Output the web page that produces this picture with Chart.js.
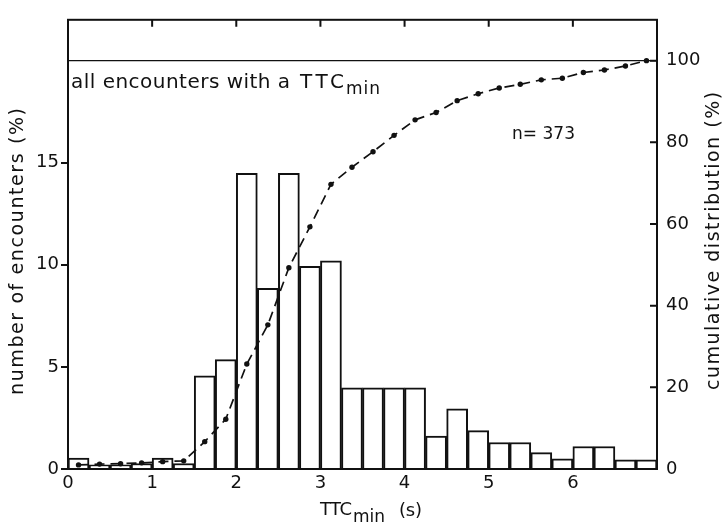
<!DOCTYPE html>
<html><head><meta charset="utf-8">
<script src="https://cdn.jsdelivr.net/npm/chart.js@4.4.0/dist/chart.umd.min.js"></script>
<style>html,body{margin:0;padding:0;background:#fff}canvas{display:block}</style>
</head><body>
<canvas id="c" width="724" height="526"></canvas>
<script>
// ---- data ----
const binCenters = [0.125,0.375,0.625,0.875,1.125,1.375,1.625,1.875,2.125,2.375,2.625,2.875,3.125,3.375,3.625,3.875,4.125,4.375,4.625,4.875,5.125,5.375,5.625,5.875,6.125,6.375,6.625,6.875];
const barValues  = [0.54,0.2,0.2,0.27,0.54,0.27,4.56,5.36,14.48,8.85,14.48,9.92,10.19,3.97,3.97,3.97,3.97,1.61,2.95,1.88,1.3,1.3,0.8,0.5,1.1,1.1,0.45,0.45];
const cumX       = [0.125,0.375,0.625,0.875,1.125,1.375,1.625,1.875,2.125,2.375,2.625,2.875,3.125,3.375,3.625,3.875,4.125,4.375,4.625,4.875,5.125,5.375,5.625,5.875,6.125,6.375,6.625,6.875];
const cumValues  = [1.0,1.2,1.3,1.5,1.8,2.0,6.7,12.2,25.7,35.3,49.3,59.3,69.7,73.9,77.7,81.7,85.5,87.3,90.2,91.9,93.3,94.2,95.3,95.7,97.1,97.7,98.7,100];
const xTickLabels = ['0','1','2','3','4','5','6'];
const leftTicks  = [0,5,10,15];
const rightTicks = [0,20,40,60,80,100];
const topTicks   = [1,2,3,4,5,6];
const leftTitle  = 'number of encounters (%)';
const rightTitle = 'cumulative distribution (%)';
const noteText   = 'all encounters with a ';
const nText      = 'n= 373';

const FONT = '"DejaVu Sans", sans-serif';
const INK = '#111';

function fitText(ctx, text, x, y, w, size) {
  ctx.font = size + 'px ' + FONT;
  ctx.letterSpacing = '0px';
  const m = ctx.measureText(text).width;
  const ls = (w - m) / Math.max(1, text.length - 1);
  ctx.letterSpacing = ls.toFixed(2) + 'px';
  ctx.fillText(text, x, y);
  ctx.letterSpacing = '0px';
}

const overlay = {
  id: 'overlay',
  beforeDatasetsDraw(chart) {
    const {ctx, chartArea: a, scales} = chart;
    ctx.save();
    ctx.strokeStyle = INK; ctx.lineWidth = 1.2;
    const y100 = scales.y2.getPixelForValue(100);
    ctx.beginPath(); ctx.moveTo(a.left, y100); ctx.lineTo(a.right, y100); ctx.stroke();
    ctx.restore();
  },
  afterDraw(chart) {
    const {ctx, chartArea: a, scales} = chart;
    ctx.save();
    ctx.strokeStyle = INK; ctx.lineWidth = 2;
    ctx.strokeRect(a.left, a.top, a.right - a.left, a.bottom - a.top);
    ctx.beginPath();
    topTicks.forEach(v => { const x = scales.x.getPixelForValue(v); ctx.moveTo(x, a.top); ctx.lineTo(x, a.top + 7); });
    rightTicks.forEach(v => { const y = scales.y2.getPixelForValue(v); ctx.moveTo(a.right - 7, y); ctx.lineTo(a.right, y); });
    ctx.stroke();
    ctx.fillStyle = INK; ctx.textBaseline = 'alphabetic'; ctx.textAlign = 'left';
    fitText(ctx, noteText, 71, 88, 226, 20);
    fitText(ctx, 'TTC', 300, 88, 44, 20);
    fitText(ctx, 'min', 346, 94, 34, 17);
    fitText(ctx, nText, 512, 139, 63, 17);
    fitText(ctx, 'TTC', 320, 515, 32, 18);
    fitText(ctx, 'min', 353, 522, 32, 17);
    fitText(ctx, '(s)', 399, 516, 23, 18);
    ctx.save(); ctx.translate(23, 395); ctx.rotate(-Math.PI/2);
    fitText(ctx, leftTitle, 0, 0, 287, 19); ctx.restore();
    ctx.save(); ctx.translate(719, 390); ctx.rotate(-Math.PI/2);
    fitText(ctx, rightTitle, 0, 0, 298, 19); ctx.restore();
    ctx.restore();
  }
};

new Chart(document.getElementById('c'), {
  type: 'bar',
  data: {
    datasets: [
      {
        type: 'line', yAxisID: 'y2', order: 1,
        data: cumX.map((x, i) => ({x, y: cumValues[i]})),
        borderColor: INK, borderWidth: 1.7, borderDash: [10, 6],
        pointRadius: 2.7, pointBackgroundColor: INK, pointBorderWidth: 0,
        tension: 0, fill: false
      },
      {
        type: 'bar', yAxisID: 'y', order: 2,
        data: binCenters.map((x, i) => ({x, y: barValues[i]})),
        backgroundColor: '#fff', borderColor: INK, borderWidth: 2,
        barPercentage: 1, categoryPercentage: 1, borderSkipped: 'bottom'
      }
    ]
  },
  options: {
    responsive: false, animation: false, devicePixelRatio: 1,
    layout: {padding: {top: 8, left: 0, right: 0, bottom: 0}},
    plugins: {legend: {display: false}, tooltip: {enabled: false}},
    scales: {
      x: {
        type: 'linear', min: 0, max: 7, offset: false,
        afterFit: s => { s.height = 57; },
        afterBuildTicks: s => { s.ticks = xTickLabels.map((_, i) => ({value: i})); },
        grid: {display: false, drawTicks: false}, border: {display: false},
        ticks: {padding: 4, color: INK, font: {family: FONT, size: 18}, maxRotation: 0,
                callback: v => xTickLabels[v] !== undefined ? xTickLabels[v] : ''}
      },
      y: {
        position: 'left', min: 0, max: 22,
        afterFit: s => { s.width = 68; },
        afterBuildTicks: s => { s.ticks = leftTicks.map(v => ({value: v})); },
        grid: {display: true, drawOnChartArea: false, drawTicks: true, tickLength: 7, color: INK, lineWidth: 2},
        border: {display: false},
        ticks: {padding: 2, color: INK, font: {family: FONT, size: 18}}
      },
      y2: {
        position: 'right', min: 0, max: 110,
        afterFit: s => { s.width = 67; },
        afterBuildTicks: s => { s.ticks = rightTicks.map(v => ({value: v})); },
        grid: {display: false, drawTicks: false}, border: {display: false},
        ticks: {padding: 9, color: INK, font: {family: FONT, size: 18}}
      }
    }
  },
  plugins: [overlay]
});
</script>
</body></html>
